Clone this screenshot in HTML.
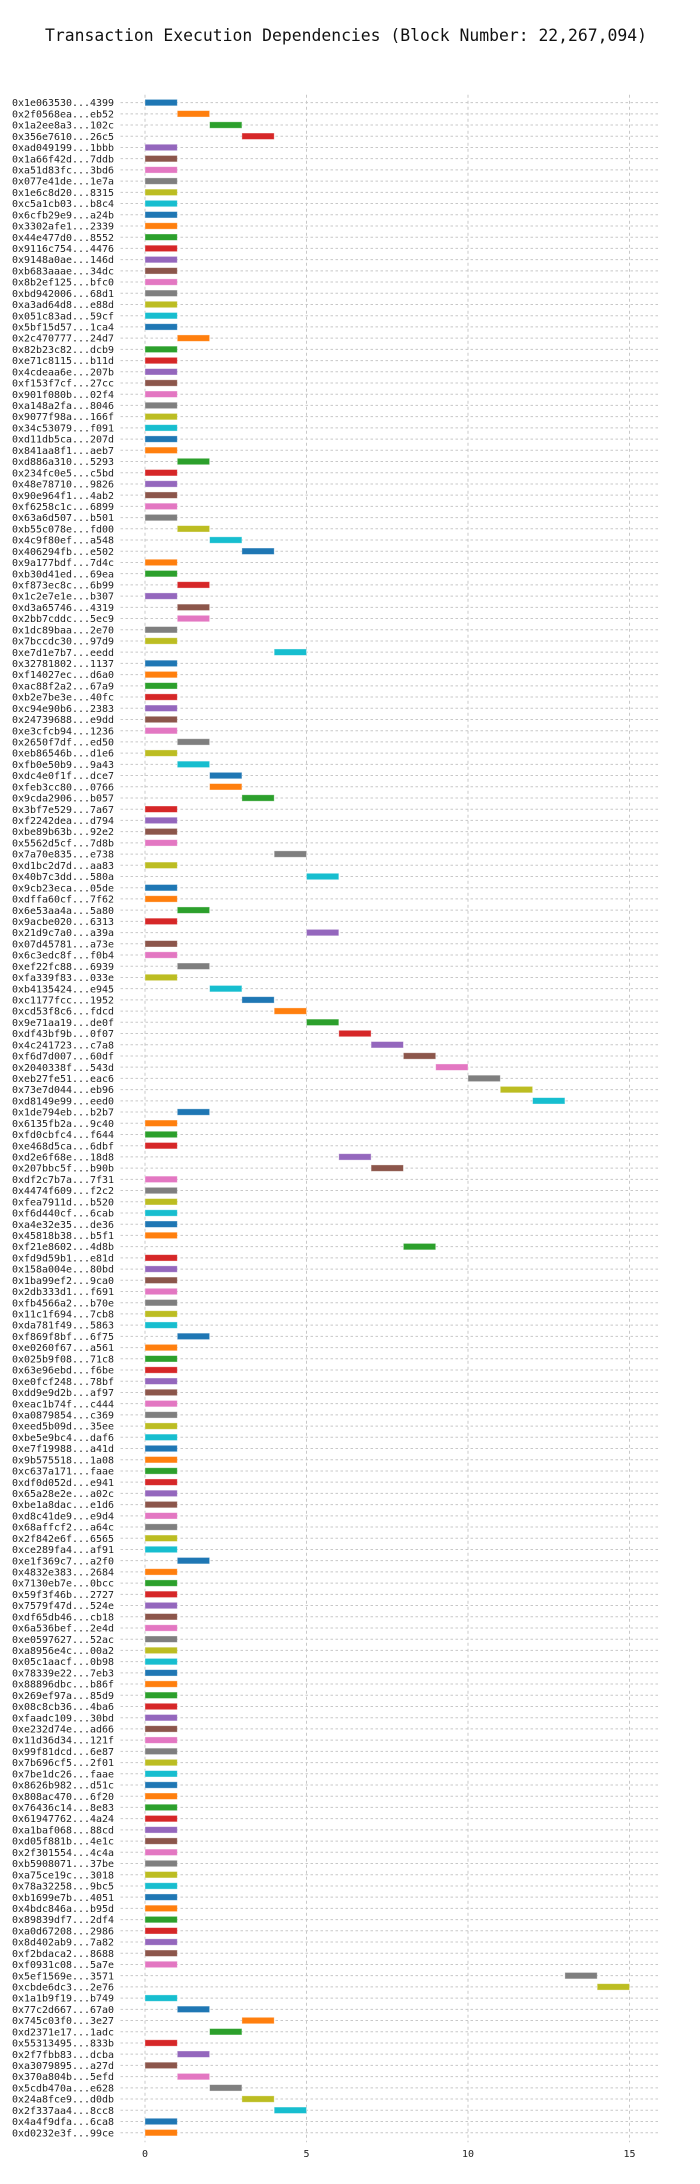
<!DOCTYPE html>
<html><head><meta charset="utf-8">
<style>
html,body{margin:0;padding:0;background:#fff;}
svg{display:block;}
text{font-family:"DejaVu Sans Mono","Liberation Mono",monospace;fill:#222;}
</style></head>
<body>
<svg id="chart" width="700" height="2184" viewBox="0 0 700 2184" xmlns="http://www.w3.org/2000/svg">
<text x="346" y="41" text-anchor="middle" font-size="16.4" textLength="602" lengthAdjust="spacingAndGlyphs" style="fill:#111">Transaction Execution Dependencies (Block Number: 22,267,094)</text>
<g id="grid"></g><g id="rows"></g><g id="xticks"></g>
</svg>
<script>
const txLabels = ["0x1e063530...4399","0x2f0568ea...eb52","0x1a2ee8a3...102c","0x356e7610...26c5","0xad049199...1bbb","0x1a66f42d...7ddb","0xa51d83fc...3bd6","0x077e41de...1e7a","0x1e6c8d20...8315","0xc5a1cb03...b8c4","0x6cfb29e9...a24b","0x3302afe1...2339","0x44e477d0...8552","0x9116c754...4476","0x9148a0ae...146d","0xb683aaae...34dc","0x8b2ef125...bfc0","0xbd942006...68d1","0xa3ad64d8...e88d","0x051c83ad...59cf","0x5bf15d57...1ca4","0x2c470777...24d7","0x82b23c82...dcb9","0xe71c8115...b11d","0x4cdeaa6e...207b","0xf153f7cf...27cc","0x901f080b...02f4","0xa148a2fa...8046","0x9077f98a...166f","0x34c53079...f091","0xd11db5ca...207d","0x841aa8f1...aeb7","0xd886a310...5293","0x234fc0e5...c5bd","0x48e78710...9826","0x90e964f1...4ab2","0xf6258c1c...6899","0x63a6d507...b501","0xb55c078e...fd00","0x4c9f80ef...a548","0x406294fb...e502","0x9a177bdf...7d4c","0xb30d41ed...69ea","0xf873ec8c...6b99","0x1c2e7e1e...b307","0xd3a65746...4319","0x2bb7cddc...5ec9","0x1dc89baa...2e70","0x7bccdc30...97d9","0xe7d1e7b7...eedd","0x32781802...1137","0xf14027ec...d6a0","0xac88f2a2...67a9","0xb2e7be3e...40fc","0xc94e90b6...2383","0x24739688...e9dd","0xe3cfcb94...1236","0x2650f7df...ed50","0xeb86546b...d1e6","0xfb0e50b9...9a43","0xdc4e0f1f...dce7","0xfeb3cc80...0766","0x9cda2906...b057","0x3bf7e529...7a67","0xf2242dea...d794","0xbe89b63b...92e2","0x5562d5cf...7d8b","0x7a70e835...e738","0xd1bc2d7d...aa83","0x40b7c3dd...580a","0x9cb23eca...05de","0xdffa60cf...7f62","0x6e53aa4a...5a80","0x9acbe020...6313","0x21d9c7a0...a39a","0x07d45781...a73e","0x6c3edc8f...f0b4","0xef22fc88...6939","0xfa339f83...033e","0xb4135424...e945","0xc1177fcc...1952","0xcd53f8c6...fdcd","0x9e71aa19...de0f","0xdf43bf9b...0f07","0x4c241723...c7a8","0xf6d7d007...60df","0x2040338f...543d","0xeb27fe51...eac6","0x73e7d044...eb96","0xd8149e99...eed0","0x1de794eb...b2b7","0x6135fb2a...9c40","0xfd0cbfc4...f644","0xe468d5ca...6dbf","0xd2e6f68e...18d8","0x207bbc5f...b90b","0xdf2c7b7a...7f31","0x4474f609...f2c2","0xfea7911d...b520","0xf6d440cf...6cab","0xa4e32e35...de36","0x45818b38...b5f1","0xf21e8602...4d8b","0xfd9d59b1...e81d","0x158a004e...80bd","0x1ba99ef2...9ca0","0x2db333d1...f691","0xfb4566a2...b70e","0x11c1f694...7cb8","0xda781f49...5863","0xf869f8bf...6f75","0xe0260f67...a561","0x025b9f08...71c8","0x63e96ebd...f6be","0xe0fcf248...78bf","0xdd9e9d2b...af97","0xeac1b74f...c444","0xa0879854...c369","0xeed5b09d...35ee","0xbe5e9bc4...daf6","0xe7f19988...a41d","0x9b575518...1a08","0xc637a171...faae","0xdf0d052d...e941","0x65a28e2e...a02c","0xbe1a8dac...e1d6","0xd8c41de9...e9d4","0x68affcf2...a64c","0x2f842e6f...6565","0xce289fa4...af91","0xe1f369c7...a2f0","0x4832e383...2684","0x7130eb7e...0bcc","0x59f3f46b...2727","0x7579f47d...524e","0xdf65db46...cb18","0x6a536bef...2e4d","0xe0597627...52ac","0xa8956e4c...00a2","0x05c1aacf...0b98","0x78339e22...7eb3","0x88896dbc...b86f","0x269ef97a...85d9","0x08c8cb36...4ba6","0xfaadc109...30bd","0xe232d74e...ad66","0x11d36d34...121f","0x99f81dcd...6e87","0x7b696cf5...2f01","0x7be1dc26...faae","0x8626b982...d51c","0x808ac470...6f20","0x76436c14...8e83","0x61947762...4a24","0xa1baf068...88cd","0xd05f881b...4e1c","0x2f301554...4c4a","0xb5908071...37be","0xa75ce19c...3018","0x78a32258...9bc5","0xb1699e7b...4051","0x4bdc846a...b95d","0x89839df7...2df4","0xa0d67208...2986","0x8d402ab9...7a82","0xf2bdaca2...8688","0xf0931c08...5a7e","0x5ef1569e...3571","0xcbde6dc3...2e76","0x1a1b9f19...b749","0x77c2d667...67a0","0x745c03f0...3e27","0xd2371e17...1adc","0x55313495...833b","0x2f7fbb83...dcba","0xa3079895...a27d","0x370a804b...5efd","0x5cdb470a...e628","0x24a8fce9...d0db","0x2f337aa4...8cc8","0x4a4f9dfa...6ca8","0xd0232e3f...99ce"];
const startTimes = [0,1,2,3,0,0,0,0,0,0,0,0,0,0,0,0,0,0,0,0,0,1,0,0,0,0,0,0,0,0,0,0,1,0,0,0,0,0,1,2,3,0,0,1,0,1,1,0,0,4,0,0,0,0,0,0,0,1,0,1,2,2,3,0,0,0,0,4,0,5,0,0,1,0,5,0,0,1,0,2,3,4,5,6,7,8,9,10,11,12,1,0,0,0,6,7,0,0,0,0,0,0,8,0,0,0,0,0,0,0,1,0,0,0,0,0,0,0,0,0,0,0,0,0,0,0,0,0,0,0,1,0,0,0,0,0,0,0,0,0,0,0,0,0,0,0,0,0,0,0,0,0,0,0,0,0,0,0,0,0,0,0,0,0,0,0,0,13,14,0,1,3,2,0,1,0,1,2,3,4,0,0];
const durations = startTimes.map(() => 1);
const xTicks = [0,5,10,15];
const palette = ["#1f77b4","#ff7f0e","#2ca02c","#d62728","#9467bd","#8c564b","#e377c2","#7f7f7f","#bcbd22","#17becf"];

const NS = "http://www.w3.org/2000/svg";
const X0 = 145, UNIT = 32.3, Y0 = 102.6, ROW = 11.216;
const xs = v => X0 + v * UNIT;
const ys = i => Y0 + i * ROW;
const plotL = 120.5, plotR = 658.5;
const plotT = ys(-0.7), plotB = ys(txLabels.length - 1) + 9.5;
function mk(tag, attrs, parent) { const e = document.createElementNS(NS, tag); for (const k in attrs) e.setAttribute(k, attrs[k]); parent.appendChild(e); return e; }
const grid = document.getElementById('grid'), rowsG = document.getElementById('rows'), tickG = document.getElementById('xticks');

xTicks.forEach(t => {
  const l = mk('line', {x1: xs(t), x2: xs(t), y1: plotT, y2: plotB, stroke: '#c8c8c8', 'stroke-width': 1, 'stroke-dasharray': '3,3'}, grid);
  
  
  const tx = mk('text', {x: xs(t), y: 2157, 'text-anchor': 'middle', 'font-size': 10}, tickG);
  tx.textContent = t;
  
  
});

txLabels.forEach((lab, i) => {
  const y = ys(i);
  const g = mk('g', {}, rowsG);
  
  
  const l = mk('line', {x1: plotL, x2: plotR, y1: y, y2: y, stroke: '#c8c8c8', 'stroke-width': 1, 'stroke-dasharray': '2.5,2.5'}, g);
  
  
  const t = mk('text', {x: 114, y: y + 3.6, 'text-anchor': 'end', 'font-size': 10, textLength: 102, lengthAdjust: 'spacingAndGlyphs'}, g);
  t.textContent = lab;
  
  
  const b = mk('rect', {x: xs(startTimes[i]), y: y - 3.2, width: durations[i] * UNIT, height: 6.4, fill: palette[i % 10], stroke: 'rgba(255,255,255,0.45)', 'stroke-width': 0.8}, g);
  
  
});
</script>
</body></html>
